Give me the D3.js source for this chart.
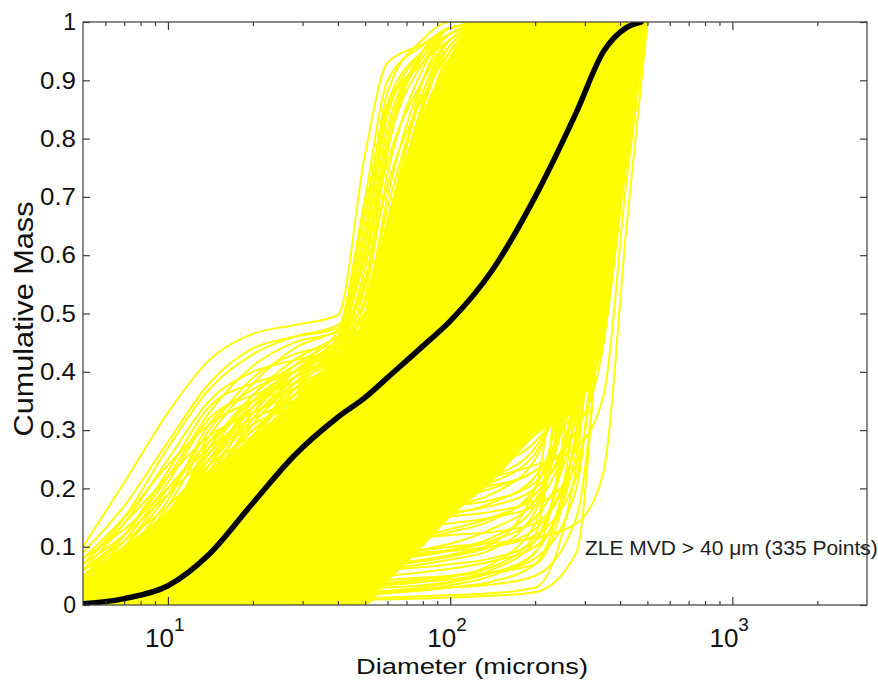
<!DOCTYPE html>
<html>
<head>
<meta charset="utf-8">
<script src="https://cdn.jsdelivr.net/npm/d3@7"></script>
<style>
  body { margin: 0; background: #fff; }
  svg text { font-family: "Liberation Sans", Arial, Helvetica, sans-serif; fill: #111; }
</style>
</head>
<body>
<svg id="chart" width="878" height="681"></svg>
<script>
// Diameter grid (microns) on which every cumulative-mass curve is sampled
const diameters = [5, 7, 10, 14, 20, 28, 40, 50, 60, 80, 100, 140, 200, 280, 350, 420, 500];

// Mean cumulative mass curve
const meanDiameters = [5, 7, 10, 14, 20, 28, 40, 50, 60, 80, 100, 140, 200, 280, 350, 420, 475];
const meanMass = [0.002, 0.011, 0.033, 0.087, 0.175, 0.256, 0.322, 0.356, 0.39, 0.444, 0.487, 0.572, 0.70, 0.845, 0.95, 0.99, 1.0];

// Densely overlapping core of the individual curves (upper / lower edge)
const coreUpper = [0.05, 0.10, 0.16, 0.23, 0.29, 0.35, 0.43, 0.50, 0.66, 0.84, 0.94, 1, 1, 1, 1, 1, 1];
const coreLower = [0, 0, 0, 0, 0, 0, 0, 0, 0.04, 0.10, 0.15, 0.21, 0.29, 0.34, 0.45, 0.74, 1];

// Curves with a large small-drop fraction (upper left)
const curvesSmallMode = [
  [0.10, 0.21, 0.33, 0.42, 0.465, 0.48, 0.497, 0.775, 0.93, 0.962, 0.99, 1, 1, 1, 1, 1, 1],
  [0.07, 0.15, 0.27, 0.37, 0.43, 0.46, 0.48, 0.60, 0.82, 0.94, 0.98, 1, 1, 1, 1, 1, 1],
  [0.06, 0.12, 0.22, 0.33, 0.41, 0.45, 0.47, 0.52, 0.66, 0.88, 0.96, 1, 1, 1, 1, 1, 1],
  [0.05, 0.10, 0.19, 0.30, 0.39, 0.43, 0.45, 0.50, 0.58, 0.75, 0.90, 0.99, 1, 1, 1, 1, 1],
  [0.04, 0.09, 0.18, 0.31, 0.37, 0.40, 0.44, 0.47, 0.52, 0.66, 0.80, 0.96, 1, 1, 1, 1, 1],
  [0.03, 0.07, 0.15, 0.26, 0.36, 0.42, 0.46, 0.49, 0.55, 0.70, 0.85, 0.97, 1, 1, 1, 1, 1],
  [0.02, 0.05, 0.12, 0.24, 0.35, 0.40, 0.43, 0.45, 0.48, 0.56, 0.66, 0.85, 0.98, 1, 1, 1, 1],
  [0.03, 0.06, 0.14, 0.28, 0.33, 0.36, 0.39, 0.42, 0.47, 0.60, 0.74, 0.92, 1, 1, 1, 1, 1],
  [0.08, 0.13, 0.20, 0.27, 0.32, 0.35, 0.38, 0.40, 0.43, 0.50, 0.60, 0.78, 0.93, 1, 1, 1, 1],
  [0.05, 0.08, 0.14, 0.22, 0.30, 0.36, 0.41, 0.44, 0.48, 0.58, 0.68, 0.84, 0.96, 1, 1, 1, 1],
  [0.02, 0.04, 0.09, 0.20, 0.32, 0.39, 0.44, 0.47, 0.52, 0.64, 0.76, 0.90, 0.99, 1, 1, 1, 1],
  [0.06, 0.11, 0.17, 0.24, 0.29, 0.33, 0.37, 0.41, 0.46, 0.57, 0.70, 0.88, 0.99, 1, 1, 1, 1],
  [0.01, 0.03, 0.08, 0.17, 0.28, 0.37, 0.43, 0.46, 0.50, 0.62, 0.74, 0.90, 0.99, 1, 1, 1, 1],
  [0.04, 0.08, 0.16, 0.25, 0.31, 0.34, 0.36, 0.38, 0.41, 0.48, 0.57, 0.75, 0.92, 0.99, 1, 1, 1],
  [0.02, 0.05, 0.11, 0.21, 0.31, 0.38, 0.42, 0.45, 0.50, 0.65, 0.80, 0.95, 1, 1, 1, 1, 1],
  [0.03, 0.07, 0.13, 0.21, 0.26, 0.30, 0.35, 0.39, 0.45, 0.58, 0.72, 0.90, 0.99, 1, 1, 1, 1],
  [0.07, 0.12, 0.19, 0.26, 0.34, 0.40, 0.45, 0.48, 0.52, 0.60, 0.70, 0.86, 0.97, 1, 1, 1, 1],
  [0.01, 0.02, 0.06, 0.14, 0.25, 0.35, 0.42, 0.46, 0.53, 0.70, 0.86, 0.98, 1, 1, 1, 1, 1],
  [0.09, 0.17, 0.28, 0.38, 0.44, 0.46, 0.475, 0.55, 0.78, 0.95, 0.99, 1, 1, 1, 1, 1, 1],
  [0.06, 0.14, 0.25, 0.35, 0.40, 0.42, 0.44, 0.48, 0.60, 0.85, 0.96, 1, 1, 1, 1, 1, 1],
  [0.05, 0.11, 0.21, 0.32, 0.36, 0.38, 0.41, 0.45, 0.55, 0.78, 0.93, 1, 1, 1, 1, 1, 1],
  [0.04, 0.10, 0.20, 0.28, 0.34, 0.39, 0.43, 0.47, 0.58, 0.82, 0.95, 1, 1, 1, 1, 1, 1],
  [0.03, 0.08, 0.17, 0.29, 0.38, 0.44, 0.47, 0.50, 0.64, 0.90, 0.98, 1, 1, 1, 1, 1, 1],
  [0.05, 0.12, 0.23, 0.34, 0.38, 0.40, 0.42, 0.44, 0.50, 0.68, 0.84, 0.97, 1, 1, 1, 1, 1],
  [0.02, 0.06, 0.14, 0.27, 0.36, 0.41, 0.44, 0.46, 0.51, 0.72, 0.90, 0.99, 1, 1, 1, 1, 1],
  [0.07, 0.14, 0.22, 0.29, 0.33, 0.37, 0.41, 0.44, 0.48, 0.62, 0.78, 0.94, 1, 1, 1, 1, 1],
  [0.04, 0.09, 0.16, 0.24, 0.33, 0.40, 0.45, 0.48, 0.56, 0.76, 0.92, 1, 1, 1, 1, 1, 1],
  [0.03, 0.06, 0.12, 0.22, 0.30, 0.35, 0.39, 0.42, 0.46, 0.55, 0.66, 0.84, 0.97, 1, 1, 1, 1],
  [0.06, 0.10, 0.16, 0.23, 0.28, 0.32, 0.36, 0.40, 0.47, 0.66, 0.82, 0.96, 1, 1, 1, 1, 1],
  [0.02, 0.05, 0.10, 0.19, 0.29, 0.36, 0.41, 0.45, 0.52, 0.68, 0.82, 0.96, 1, 1, 1, 1, 1],
  [0.08, 0.15, 0.24, 0.31, 0.35, 0.37, 0.39, 0.41, 0.44, 0.52, 0.62, 0.80, 0.95, 1, 1, 1, 1],
  [0.05, 0.09, 0.15, 0.22, 0.27, 0.31, 0.36, 0.43, 0.55, 0.80, 0.94, 1, 1, 1, 1, 1, 1],
  [0.03, 0.07, 0.15, 0.27, 0.35, 0.39, 0.43, 0.48, 0.62, 0.86, 0.97, 1, 1, 1, 1, 1, 1],
  [0.04, 0.08, 0.13, 0.20, 0.27, 0.34, 0.40, 0.44, 0.50, 0.62, 0.74, 0.90, 0.99, 1, 1, 1, 1]
];

// Curves whose large-drop mode rises steeply between 40 and 100 microns
const curvesEarlyRise = [
  [0.02, 0.05, 0.10, 0.18, 0.27, 0.35, 0.45, 0.62, 0.86, 0.95, 0.98, 1, 1, 1, 1, 1, 1],
  [0.01, 0.03, 0.07, 0.14, 0.22, 0.31, 0.42, 0.55, 0.78, 0.93, 0.98, 1, 1, 1, 1, 1, 1],
  [0.03, 0.06, 0.11, 0.17, 0.23, 0.29, 0.38, 0.50, 0.70, 0.90, 0.97, 1, 1, 1, 1, 1, 1],
  [0.01, 0.02, 0.05, 0.10, 0.17, 0.25, 0.36, 0.47, 0.64, 0.86, 0.96, 1, 1, 1, 1, 1, 1],
  [0.02, 0.04, 0.08, 0.13, 0.20, 0.28, 0.40, 0.53, 0.74, 0.92, 0.99, 1, 1, 1, 1, 1, 1],
  [0.00, 0.01, 0.03, 0.07, 0.13, 0.21, 0.33, 0.44, 0.60, 0.82, 0.94, 1, 1, 1, 1, 1, 1],
  [0.01, 0.03, 0.06, 0.12, 0.19, 0.27, 0.39, 0.48, 0.62, 0.80, 0.92, 0.99, 1, 1, 1, 1, 1],
  [0.00, 0.01, 0.02, 0.05, 0.10, 0.17, 0.28, 0.40, 0.56, 0.78, 0.91, 0.99, 1, 1, 1, 1, 1],
  [0.02, 0.04, 0.09, 0.16, 0.25, 0.33, 0.44, 0.58, 0.80, 0.95, 0.99, 1, 1, 1, 1, 1, 1],
  [0.01, 0.02, 0.04, 0.09, 0.16, 0.24, 0.35, 0.45, 0.58, 0.76, 0.88, 0.98, 1, 1, 1, 1, 1],
  [0.03, 0.07, 0.14, 0.24, 0.34, 0.41, 0.47, 0.70, 0.90, 0.96, 0.99, 1, 1, 1, 1, 1, 1],
  [0.02, 0.06, 0.12, 0.22, 0.33, 0.40, 0.46, 0.66, 0.88, 0.97, 1, 1, 1, 1, 1, 1, 1],
  [0.04, 0.08, 0.15, 0.25, 0.34, 0.40, 0.45, 0.62, 0.84, 0.95, 0.99, 1, 1, 1, 1, 1, 1],
  [0.01, 0.04, 0.09, 0.18, 0.29, 0.38, 0.45, 0.64, 0.85, 0.93, 0.97, 1, 1, 1, 1, 1, 1],
  [0.02, 0.05, 0.11, 0.21, 0.31, 0.39, 0.46, 0.68, 0.86, 0.93, 0.98, 1, 1, 1, 1, 1, 1],
  [0.03, 0.06, 0.13, 0.23, 0.32, 0.39, 0.44, 0.58, 0.80, 0.94, 0.99, 1, 1, 1, 1, 1, 1],
  [0.01, 0.03, 0.08, 0.16, 0.27, 0.36, 0.44, 0.60, 0.76, 0.90, 0.97, 1, 1, 1, 1, 1, 1],
  [0.02, 0.04, 0.09, 0.17, 0.26, 0.34, 0.42, 0.52, 0.68, 0.88, 0.97, 1, 1, 1, 1, 1, 1],
  [0.01, 0.02, 0.06, 0.12, 0.21, 0.30, 0.40, 0.50, 0.66, 0.84, 0.94, 1, 1, 1, 1, 1, 1],
  [0.02, 0.05, 0.10, 0.19, 0.29, 0.37, 0.43, 0.56, 0.72, 0.87, 0.95, 1, 1, 1, 1, 1, 1]
];

// Curves that stay low and rise late (lower right)
const curvesLateRise = [
  [0, 0, 0.001, 0.003, 0.006, 0.009, 0.011, 0.012, 0.013, 0.015, 0.017, 0.02, 0.03, 0.24, 0.80, 0.99, 1],
  [0, 0.001, 0.003, 0.006, 0.01, 0.015, 0.02, 0.022, 0.024, 0.027, 0.03, 0.035, 0.05, 0.15, 0.55, 0.95, 1],
  [0, 0.002, 0.006, 0.012, 0.02, 0.028, 0.036, 0.04, 0.043, 0.047, 0.05, 0.056, 0.07, 0.30, 0.75, 0.98, 1],
  [0.001, 0.004, 0.01, 0.02, 0.03, 0.04, 0.05, 0.055, 0.06, 0.065, 0.07, 0.08, 0.11, 0.40, 0.85, 1, 1],
  [0.002, 0.006, 0.014, 0.027, 0.042, 0.058, 0.072, 0.08, 0.086, 0.094, 0.10, 0.106, 0.115, 0.14, 0.23, 0.64, 1],
  [0.002, 0.008, 0.02, 0.04, 0.06, 0.08, 0.10, 0.108, 0.112, 0.116, 0.12, 0.125, 0.14, 0.28, 0.70, 0.97, 1],
  [0.003, 0.01, 0.025, 0.05, 0.08, 0.11, 0.13, 0.138, 0.143, 0.148, 0.152, 0.16, 0.18, 0.35, 0.80, 1, 1],
  [0.004, 0.012, 0.03, 0.06, 0.09, 0.12, 0.145, 0.155, 0.16, 0.166, 0.17, 0.18, 0.21, 0.45, 0.90, 1, 1],
  [0.005, 0.015, 0.035, 0.07, 0.10, 0.14, 0.17, 0.18, 0.186, 0.192, 0.197, 0.205, 0.23, 0.38, 0.75, 0.99, 1],
  [0.001, 0.005, 0.015, 0.03, 0.05, 0.065, 0.078, 0.083, 0.086, 0.09, 0.093, 0.10, 0.12, 0.22, 0.60, 0.95, 1],
  [0, 0.002, 0.005, 0.01, 0.018, 0.025, 0.03, 0.033, 0.036, 0.04, 0.044, 0.055, 0.09, 0.45, 0.92, 1, 1],
  [0, 0.001, 0.004, 0.008, 0.013, 0.02, 0.026, 0.03, 0.034, 0.04, 0.048, 0.07, 0.14, 0.55, 0.96, 1, 1],
  [0.001, 0.003, 0.008, 0.016, 0.028, 0.04, 0.052, 0.058, 0.063, 0.07, 0.078, 0.095, 0.16, 0.50, 0.93, 1, 1],
  [0.002, 0.006, 0.015, 0.03, 0.05, 0.07, 0.09, 0.098, 0.105, 0.115, 0.125, 0.145, 0.20, 0.52, 0.92, 1, 1],
  [0.003, 0.01, 0.024, 0.045, 0.07, 0.10, 0.12, 0.128, 0.135, 0.145, 0.155, 0.175, 0.22, 0.42, 0.82, 0.99, 1],
  [0.001, 0.004, 0.01, 0.02, 0.035, 0.05, 0.065, 0.072, 0.078, 0.085, 0.093, 0.11, 0.15, 0.33, 0.78, 0.99, 1],
  [0.004, 0.012, 0.03, 0.055, 0.085, 0.12, 0.15, 0.16, 0.168, 0.178, 0.19, 0.21, 0.26, 0.50, 0.88, 1, 1],
  [0, 0.001, 0.002, 0.004, 0.007, 0.01, 0.014, 0.017, 0.02, 0.026, 0.034, 0.05, 0.09, 0.30, 0.82, 1, 1],
  [0, 0, 0.001, 0.002, 0.004, 0.006, 0.008, 0.009, 0.01, 0.011, 0.013, 0.016, 0.022, 0.09, 0.60, 0.98, 1],
  [0, 0.001, 0.003, 0.006, 0.01, 0.014, 0.018, 0.02, 0.022, 0.025, 0.03, 0.04, 0.07, 0.35, 0.90, 1, 1],
  [0.001, 0.003, 0.007, 0.013, 0.02, 0.03, 0.04, 0.045, 0.05, 0.056, 0.062, 0.075, 0.10, 0.26, 0.70, 0.97, 1],
  [0.002, 0.005, 0.012, 0.024, 0.04, 0.055, 0.068, 0.074, 0.08, 0.087, 0.095, 0.115, 0.17, 0.60, 0.97, 1, 1],
  [0.002, 0.007, 0.018, 0.035, 0.055, 0.075, 0.092, 0.10, 0.108, 0.118, 0.13, 0.15, 0.19, 0.36, 0.78, 0.99, 1],
  [0.003, 0.009, 0.022, 0.042, 0.065, 0.09, 0.11, 0.12, 0.127, 0.135, 0.14, 0.15, 0.17, 0.24, 0.55, 0.93, 1],
  [0.004, 0.012, 0.028, 0.052, 0.08, 0.11, 0.135, 0.147, 0.155, 0.163, 0.17, 0.19, 0.25, 0.55, 0.94, 1, 1],
  [0.005, 0.014, 0.032, 0.06, 0.095, 0.13, 0.16, 0.172, 0.18, 0.19, 0.20, 0.22, 0.27, 0.45, 0.85, 1, 1],
  [0.006, 0.017, 0.04, 0.075, 0.11, 0.15, 0.18, 0.19, 0.20, 0.21, 0.22, 0.24, 0.28, 0.40, 0.70, 0.97, 1],
  [0, 0.002, 0.004, 0.008, 0.014, 0.02, 0.025, 0.028, 0.03, 0.034, 0.04, 0.06, 0.11, 0.40, 0.88, 1, 1],
  [0.001, 0.004, 0.009, 0.018, 0.03, 0.043, 0.055, 0.062, 0.068, 0.075, 0.083, 0.10, 0.13, 0.28, 0.72, 0.98, 1],
  [0.003, 0.01, 0.024, 0.047, 0.075, 0.10, 0.125, 0.135, 0.142, 0.15, 0.158, 0.17, 0.20, 0.32, 0.66, 0.96, 1],
  [0.008, 0.02, 0.045, 0.08, 0.12, 0.16, 0.19, 0.205, 0.215, 0.225, 0.235, 0.255, 0.30, 0.50, 0.88, 1, 1],
  [0, 0.001, 0.002, 0.005, 0.009, 0.013, 0.017, 0.02, 0.024, 0.03, 0.038, 0.055, 0.08, 0.20, 0.65, 0.97, 1],
  [0.002, 0.006, 0.013, 0.025, 0.04, 0.056, 0.07, 0.078, 0.085, 0.095, 0.105, 0.13, 0.18, 0.45, 0.90, 1, 1],
  [0, 0.002, 0.005, 0.01, 0.017, 0.024, 0.03, 0.034, 0.038, 0.044, 0.05, 0.065, 0.12, 0.70, 0.99, 1, 1],
  [0.001, 0.004, 0.01, 0.02, 0.032, 0.045, 0.058, 0.065, 0.07, 0.078, 0.086, 0.105, 0.20, 0.75, 1, 1, 1]
];

// Curves along the large-diameter edge
const curvesLargeEdge = [
  [0.005, 0.015, 0.035, 0.065, 0.10, 0.14, 0.17, 0.18, 0.19, 0.20, 0.21, 0.22, 0.24, 0.27, 0.36, 0.72, 1],
  [0.003, 0.01, 0.025, 0.05, 0.08, 0.11, 0.14, 0.15, 0.16, 0.17, 0.18, 0.20, 0.23, 0.30, 0.45, 0.78, 1],
  [0.01, 0.025, 0.05, 0.09, 0.13, 0.17, 0.20, 0.21, 0.22, 0.235, 0.25, 0.27, 0.31, 0.38, 0.50, 0.82, 1],
  [0.02, 0.04, 0.07, 0.11, 0.16, 0.20, 0.24, 0.26, 0.27, 0.29, 0.31, 0.34, 0.39, 0.47, 0.60, 0.86, 1],
  [0.01, 0.03, 0.06, 0.10, 0.15, 0.19, 0.23, 0.25, 0.27, 0.30, 0.33, 0.38, 0.45, 0.55, 0.70, 0.90, 1]
];

// Axis ticks and labels
const yTicks = [0, 0.1, 0.2, 0.3, 0.4, 0.5, 0.6, 0.7, 0.8, 0.9, 1];
const yTickLabels = ["0", "0.1", "0.2", "0.3", "0.4", "0.5", "0.6", "0.7", "0.8", "0.9", "1"];
const xMajorTicks = [10, 100, 1000];
const xMajorExponents = ["1", "2", "3"];
const xMinorTicks = [6, 7, 8, 9, 20, 30, 40, 50, 60, 70, 80, 90, 200, 300, 400, 500, 600, 700, 800, 900, 2000];

const xLabel = "Diameter (microns)";
const yLabel = "Cumulative Mass";
const annotation = "ZLE MVD > 40 \u03bcm (335 Points)";

// ---- layout ----
const m = { left: 83, right: 867, top: 22, bottom: 605 };
const svg = d3.select("#chart");

const x = d3.scaleLog().domain([5, 3000]).range([m.left, m.right]);
const y = d3.scaleLinear().domain([0, 1]).range([m.bottom, m.top]);

svg.append("defs").append("clipPath").attr("id", "plot-clip")
  .append("rect")
  .attr("x", m.left).attr("y", m.top)
  .attr("width", m.right - m.left).attr("height", m.bottom - m.top);

const plot = svg.append("g").attr("clip-path", "url(#plot-clip)");

const yellow = "#ffff00";

// dense core band
const band = d3.area()
  .x((d, i) => x(diameters[i]))
  .y0((d, i) => y(coreLower[i]))
  .y1(d => y(d))
  .curve(d3.curveMonotoneX);

plot.append("path")
  .datum(coreUpper)
  .attr("d", band)
  .attr("fill", yellow);

// individual curves
const curveLine = d3.line()
  .x((d, i) => x(diameters[i]))
  .y(d => y(d))
  .curve(d3.curveMonotoneX);

const allCurves = [].concat(curvesLateRise, curvesLargeEdge, curvesEarlyRise, curvesSmallMode);

plot.append("g")
  .selectAll("path")
  .data(allCurves)
  .join("path")
  .attr("d", curveLine)
  .attr("fill", "none")
  .attr("stroke", yellow)
  .attr("stroke-width", 2);

// mean curve
const meanLine = d3.line()
  .x((d, i) => x(meanDiameters[i]))
  .y(d => y(d))
  .curve(d3.curveMonotoneX);

plot.append("path")
  .datum(meanMass)
  .attr("d", meanLine)
  .attr("fill", "none")
  .attr("stroke", "#000")
  .attr("stroke-width", 5.5)
  .attr("stroke-linecap", "round");

// ---- axes box and ticks ----
const axisColor = "#3c3c3c";

function styleAxis(g) {
  g.select(".domain").remove();
  g.selectAll(".tick line").attr("stroke", axisColor).attr("stroke-width", 1.2);
  g.selectAll(".tick text").remove();
}

svg.append("g").attr("transform", `translate(0,${m.bottom})`)
  .call(d3.axisBottom(x).tickValues(xMajorTicks).tickSize(-8)).call(styleAxis);
svg.append("g").attr("transform", `translate(0,${m.bottom})`)
  .call(d3.axisBottom(x).tickValues(xMinorTicks).tickSize(-4)).call(styleAxis);
svg.append("g").attr("transform", `translate(0,${m.top})`)
  .call(d3.axisTop(x).tickValues(xMajorTicks).tickSize(-8)).call(styleAxis);
svg.append("g").attr("transform", `translate(0,${m.top})`)
  .call(d3.axisTop(x).tickValues(xMinorTicks).tickSize(-4)).call(styleAxis);

svg.append("g").attr("transform", `translate(${m.left},0)`)
  .call(d3.axisLeft(y).tickValues(yTicks).tickSize(-7)).call(styleAxis);
svg.append("g").attr("transform", `translate(${m.right},0)`)
  .call(d3.axisRight(y).tickValues(yTicks).tickSize(-7)).call(styleAxis);

svg.append("rect")
  .attr("x", m.left).attr("y", m.top)
  .attr("width", m.right - m.left).attr("height", m.bottom - m.top)
  .attr("fill", "none").attr("stroke", axisColor).attr("stroke-width", 1.2);

// ---- tick labels ----
svg.append("g").selectAll("text")
  .data(yTicks)
  .join("text")
  .attr("x", m.left - 7)
  .attr("y", d => y(d))
  .attr("dy", "0.36em")
  .attr("text-anchor", "end")
  .attr("font-size", 23)
  .each(function (d, i) {
    const t = d3.select(this).text(yTickLabels[i]);
    if (yTickLabels[i].length > 1) t.attr("textLength", 36).attr("lengthAdjust", "spacingAndGlyphs");
  });

const xTickGroup = svg.append("g").selectAll("g")
  .data(xMajorTicks)
  .join("g")
  .attr("transform", d => `translate(${x(d)},0)`);

xTickGroup.append("text")
  .attr("x", 6).attr("y", 647)
  .attr("text-anchor", "end")
  .attr("font-size", 26)
  .text("10");

xTickGroup.append("text")
  .attr("x", 6).attr("y", 631)
  .attr("text-anchor", "start")
  .attr("font-size", 19)
  .text((d, i) => xMajorExponents[i]);

// ---- axis titles ----
svg.append("text")
  .attr("x", (m.left + m.right) / 2 - 3)
  .attr("y", 674)
  .attr("text-anchor", "middle")
  .attr("font-size", 22)
  .attr("textLength", 232)
  .attr("lengthAdjust", "spacingAndGlyphs")
  .text(xLabel);

svg.append("text")
  .attr("transform", `translate(33,${319}) rotate(-90)`)
  .attr("text-anchor", "middle")
  .attr("font-size", 27)
  .attr("textLength", 235)
  .attr("lengthAdjust", "spacingAndGlyphs")
  .text(yLabel);

// ---- annotation ----
svg.append("text")
  .attr("x", 585)
  .attr("y", 555)
  .attr("font-size", 21)
  .style("fill", "#222")
  .text(annotation);
</script>
</body>
</html>
